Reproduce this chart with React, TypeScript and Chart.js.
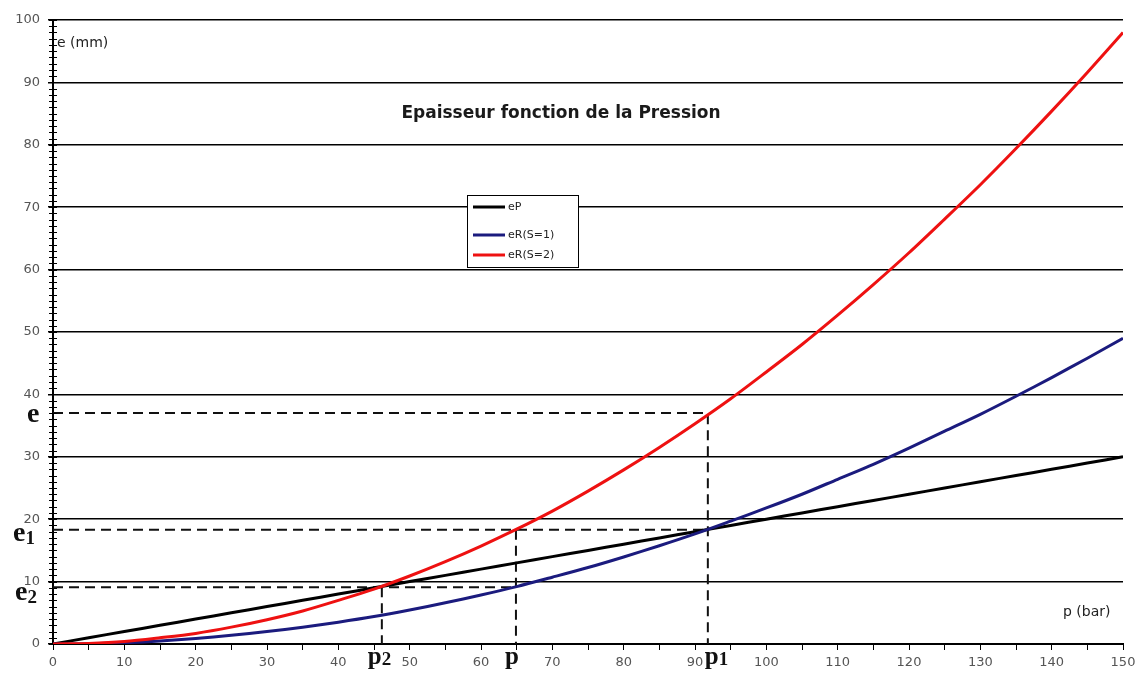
import React, { useEffect, useRef } from 'react';
import { Chart, registerables } from 'chart.js';

Chart.register(...registerables);

// ---- data ----
const pressure = [0, 5, 10, 15, 20, 25, 30, 35, 40, 45, 50, 55, 60, 65, 70, 75, 80, 85, 90, 95, 100, 105, 110, 115, 120, 125, 130, 135, 140, 145, 150];
const eP = [0, 1, 2, 3, 4, 5, 6, 7, 8, 9, 10, 11, 12, 13, 14, 15, 16, 17, 18, 19, 20, 21, 22, 23, 24, 25, 26, 27, 28, 29, 30];
const eR1 = [0, 0.05, 0.2, 0.5, 0.9, 1.4, 2.0, 2.7, 3.5, 4.4, 5.45, 6.6, 7.85, 9.2, 10.7, 12.25, 13.95, 15.75, 17.65, 19.7, 21.8, 24.0, 26.4, 28.8, 31.4, 34.1, 36.8, 39.7, 42.7, 45.8, 49.0];
const eR2 = [0, 0.1, 0.4, 1.0, 1.7, 2.7, 3.9, 5.3, 7.0, 8.8, 10.9, 13.2, 15.7, 18.4, 21.3, 24.5, 27.9, 31.5, 35.3, 39.3, 43.6, 48.0, 52.7, 57.6, 62.7, 68.1, 73.6, 79.4, 85.4, 91.6, 98.0];

const seriesNames = ['eP', 'eR(S=1)', 'eR(S=2)'];
const titleText = 'Epaisseur fonction de la Pression';
const yAxisLabel = 'e (mm)';
const xAxisLabel = 'p (bar)';

// marked pressures: p2, p, p1  and marked thicknesses: e2, e1, e
const markerP = [46.1, 64.9, 91.8];
const markerPNames = [['p', '2'], ['p', ''], ['p', '1']];
const markerE = [9.1, 18.3, 37.0];
const markerENames = [['e', '2'], ['e', '1'], ['e', '']];

const xMin = 0, xMax = 150, xStep = 5;
const yMin = 0, yMax = 100, yStep = 10;

// ---- styles / layout (kept apart from data) ----
const colors = ['#000000', '#1b1b7e', '#ee1111'];
const tickFont = '"DejaVu Sans", sans-serif';
const serif = '"Liberation Serif", "DejaVu Serif", serif';
const pLetterDx = [-14, -11, -3];
const eLetterX = [15, 13, 27];
const eLetterDy = [13, 11, 9];

const toXY = (ys: number[]) => pressure.map((p, i) => ({ x: p, y: ys[i] }));

const overlay = {
  id: 'overlay',
  afterDatasetsDraw(chart: any) {
    const { ctx, chartArea, scales } = chart;
    const xs = scales.x, ys = scales.y;
    const left = chartArea.left;
    ctx.save();

    // minor ticks on the y axis
    ctx.strokeStyle = '#000';
    ctx.lineWidth = 1;
    ctx.beginPath();
    for (let v = yMin; v <= yMax; v += 1) {
      const py = Math.round(ys.getPixelForValue(v)) + 0.5;
      ctx.moveTo(left - 4, py);
      ctx.lineTo(left + 4, py);
    }
    ctx.stroke();

    // title
    ctx.fillStyle = '#1a1a1a';
    ctx.font = 'bold 17px "DejaVu Sans", sans-serif';
    ctx.textAlign = 'center';
    ctx.textBaseline = 'middle';
    ctx.fillText(titleText, left + 508, chartArea.top + 94);

    // axis labels
    ctx.font = '14px "DejaVu Sans", sans-serif';
    ctx.textAlign = 'left';
    ctx.fillStyle = '#222';
    ctx.fillText(yAxisLabel, left + 4, chartArea.top + 23);
    ctx.fillText(xAxisLabel, chartArea.right - 60, chartArea.bottom - 32);

    // legend
    const lx = left + 414, ly = chartArea.top + 175, lw = 111, lh = 72;
    ctx.fillStyle = '#fff';
    ctx.fillRect(lx, ly, lw, lh);
    ctx.strokeStyle = '#000';
    ctx.lineWidth = 1;
    ctx.strokeRect(lx + 0.5, ly + 0.5, lw, lh);
    const rowY = [12, 40, 60];
    ctx.font = '11px "DejaVu Sans", sans-serif';
    ctx.textBaseline = 'middle';
    seriesNames.forEach((name, i) => {
      const yy = ly + rowY[i];
      ctx.strokeStyle = colors[i];
      ctx.lineWidth = 3;
      ctx.beginPath();
      ctx.moveTo(lx + 6, yy);
      ctx.lineTo(lx + 38, yy);
      ctx.stroke();
      ctx.fillStyle = '#222';
      ctx.fillText(name, lx + 41, yy);
    });

    // marker letters on the x axis
    ctx.fillStyle = '#111';
    ctx.textBaseline = 'alphabetic';
    ctx.textAlign = 'left';
    markerP.forEach((p, i) => {
      const px = xs.getPixelForValue(p) + pLetterDx[i];
      const base = chartArea.bottom + 20;
      ctx.font = 'bold 25px ' + serif;
      ctx.fillText(markerPNames[i][0], px, base);
      const w = ctx.measureText(markerPNames[i][0]).width;
      if (markerPNames[i][1]) {
        ctx.font = 'bold 19px ' + serif;
        ctx.fillText(markerPNames[i][1], px + w, base + 1);
      }
    });
    // marker letters on the y axis
    markerE.forEach((e, i) => {
      const py = ys.getPixelForValue(e) + eLetterDy[i];
      const px = eLetterX[i];
      ctx.font = 'bold 28px ' + serif;
      ctx.fillText(markerENames[i][0], px, py);
      const w = ctx.measureText(markerENames[i][0]).width;
      if (markerENames[i][1]) {
        ctx.font = 'bold 19px ' + serif;
        ctx.fillText(markerENames[i][1], px + w, py + 3);
      }
    });
    ctx.restore();
  },
};

export default function App() {
  const ref = useRef<HTMLCanvasElement | null>(null);
  useEffect(() => {
    if (!ref.current) return;
    const [p2, p, p1] = markerP;
    const [e2, e1, e] = markerE;
    const dash = (pts: { x: number; y: number }[]) => ({
      data: pts,
      borderColor: '#111',
      borderWidth: 2,
      borderDash: [10, 6],
      pointRadius: 0,
      fill: false,
      tension: 0,
      order: 10,
    });
    const curve = (i: number, ys: number[], order: number) => ({
      label: seriesNames[i],
      data: toXY(ys),
      borderColor: colors[i],
      borderWidth: 3,
      pointRadius: 0,
      tension: 0.3,
      order,
    });
    const chart = new Chart(ref.current, {
      type: 'line',
      data: {
        datasets: [
          curve(0, eP, 3),
          curve(1, eR1, 2),
          curve(2, eR2, 1),
          dash([{ x: 0, y: e }, { x: p1, y: e }, { x: p1, y: 0 }]),
          dash([{ x: 0, y: e1 }, { x: p1, y: e1 }]),
          dash([{ x: p, y: e1 }, { x: p, y: 0 }]),
          dash([{ x: 0, y: e2 }, { x: p, y: e2 }]),
          dash([{ x: p2, y: e2 }, { x: p2, y: 0 }]),
        ] as any,
      },
      options: {
        animation: false,
        responsive: false,
        devicePixelRatio: 1,
        layout: { padding: { left: 0, top: 20, right: 19, bottom: 0 } },
        plugins: { legend: { display: false }, tooltip: { enabled: false }, title: { display: false } },
        scales: {
          x: {
            type: 'linear',
            min: xMin,
            max: xMax,
            afterFit: (s: any) => { s.height = 42; },
            ticks: {
              stepSize: xStep,
              autoSkip: false,
              maxRotation: 0,
              padding: 5,
              color: '#555',
              font: { family: tickFont, size: 13 },
              callback: (v: any) => (Number(v) % 10 === 0 ? String(v) : ''),
            },
            grid: { drawOnChartArea: false, drawTicks: true, tickLength: 6, color: '#000', lineWidth: 1 },
            border: { display: true, color: '#000', width: 2 },
          },
          y: {
            type: 'linear',
            min: yMin,
            max: yMax,
            afterFit: (s: any) => { s.width = 53; },
            ticks: { stepSize: yStep, padding: 8, color: '#555', font: { family: tickFont, size: 13 } },
            grid: { color: '#000', lineWidth: 1.5, tickLength: 5 },
            border: { display: true, color: '#000', width: 2 },
          },
        },
      } as any,
      plugins: [overlay],
    });
    return () => chart.destroy();
  }, []);
  return (
    <div style={{ position: 'absolute', left: 0, top: 0, width: 1142, height: 686, background: '#fff' }}>
      <canvas ref={ref} width={1142} height={686} style={{ display: 'block' }} />
    </div>
  );
}
